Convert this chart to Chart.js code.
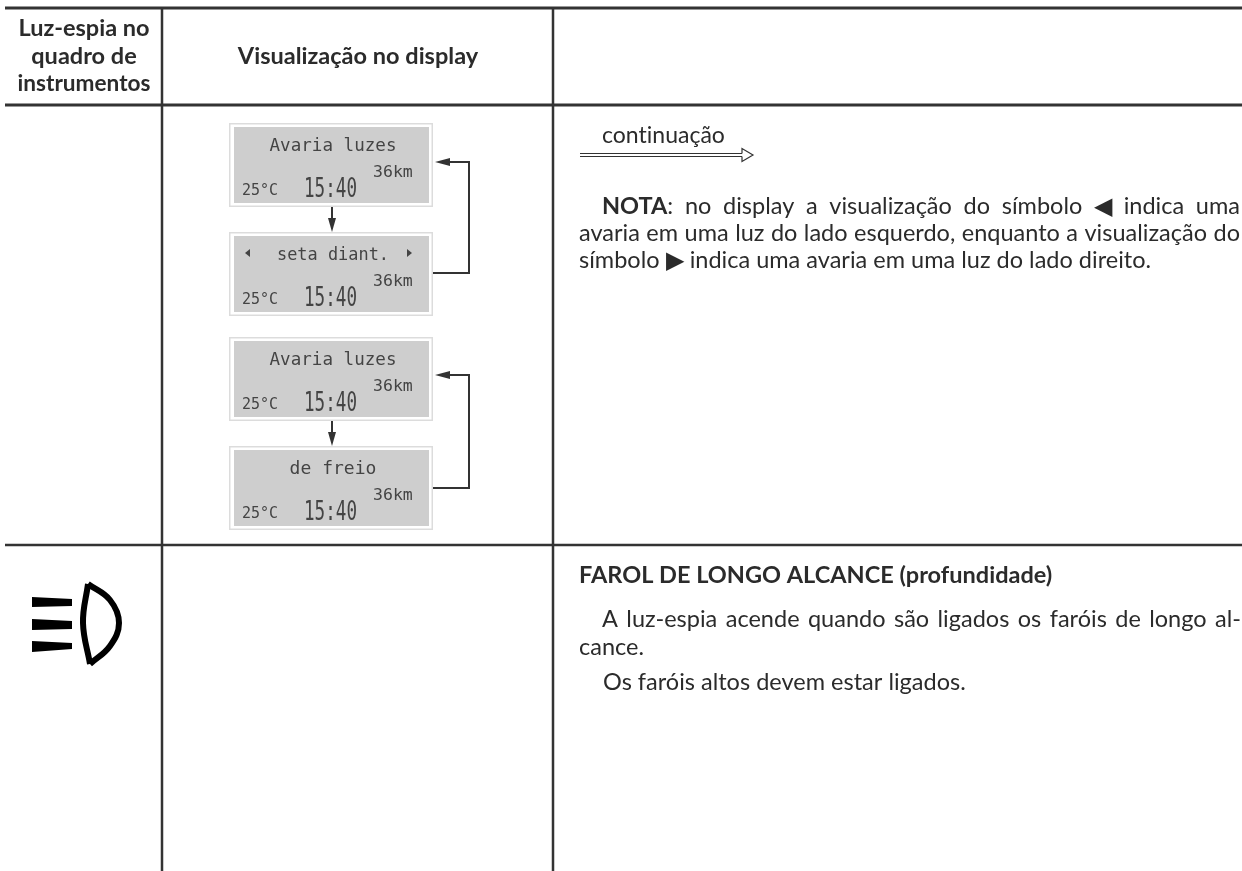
<!DOCTYPE html>
<html>
<head>
<meta charset="utf-8">
<title>Luz-espia no quadro de instrumentos</title>
<script src="https://cdn.jsdelivr.net/npm/chart.js@4"></script>
<style>
  html, body { margin: 0; background: #fff; }
  canvas { display: block; }
</style>
</head>
<body>
<canvas id="page" width="1242" height="871"></canvas>
<script>
// table grid, in page units
const tableLeft = 5;
const tableRight = 1242;
const tableBottom = 871;
const columnLines = [162, 553];
const rowLines = [8, 105, 545];

// the four display panels: top edge of each one
const panelTops = [123, 232, 337, 446];
const panelTitles = ["Avaria luzes", "seta diant.", "Avaria luzes", "de freio"];
const panelDistance = "36km";
const panelTemp = "25°C";
const panelClock = "15:40";

// header and body text
const headerFirst = ["Luz-espia no", "quadro de", "instrumentos"];
const headerSecond = "Visualização no display";
const continueLabel = "continuação";
const noteLines = [
  [["NOTA", "bold"], [": no display a visualização do símbolo ◀ indica uma", "normal"]],
  [["avaria em uma luz do lado esquerdo, enquanto a visualização do", "normal"]],
  [["símbolo ▶ indica uma avaria em uma luz do lado direito.", "normal"]],
];
const beamTitle = "FAROL DE LONGO ALCANCE (profundidade)";
const beamLines = [
  "A luz-espia acende quando são ligados os faróis de longo al-",
  "cance.",
  "Os faróis altos devem estar ligados.",
];

// helpers for the datasets
function line(points, color, width) {
  return { data: points, borderColor: color, borderWidth: width, showLine: true, pointRadius: 0, fill: false };
}
function shape(points, color) {
  return { data: points, borderColor: color, borderWidth: 0, backgroundColor: color, showLine: true, pointRadius: 0, fill: "shape" };
}
function rect(x0, y0, x1, y1, color) {
  return shape([{ x: x0, y: y0 }, { x: x1, y: y0 }, { x: x1, y: y1 }, { x: x0, y: y1 }, { x: x0, y: y0 }], color);
}

const inkColor = "#333333";
const datasets = [];

// panels
panelTops.forEach((top) => {
  datasets.push(rect(229, top, 433, top + 84, "#dcdcdc"));
  datasets.push(rect(230.5, top + 1.5, 431.5, top + 82.5, "#ffffff"));
  datasets.push(rect(234, top + 4, 429, top + 80, "#cecece"));
});

// loop arrows next to the panels
[[162, 273], [375, 488]].forEach(([upper, lower]) => {
  datasets.push(line([{ x: 433, y: lower }, { x: 469, y: lower }, { x: 469, y: upper }, { x: 445, y: upper }], inkColor, 2));
  datasets.push(shape([{ x: 435, y: upper }, { x: 450, y: upper - 4 }, { x: 450, y: upper + 4 }, { x: 435, y: upper }], inkColor));
});
[[207, 232], [421, 446]].forEach(([from, to]) => {
  datasets.push(line([{ x: 332, y: from }, { x: 332, y: to - 8 }], inkColor, 2));
  datasets.push(shape([{ x: 332, y: to }, { x: 328, y: to - 14 }, { x: 336, y: to - 14 }, { x: 332, y: to }], inkColor));
});

// small markers in the second panel
datasets.push(shape([{ x: 245, y: 253 }, { x: 250, y: 249 }, { x: 250, y: 257 }, { x: 245, y: 253 }], "#444444"));
datasets.push(shape([{ x: 412, y: 253 }, { x: 407, y: 249 }, { x: 407, y: 257 }, { x: 412, y: 253 }], "#444444"));

// continuation arrow
datasets.push(line([{ x: 580, y: 153.5 }, { x: 742, y: 153.5 }], inkColor, 1.2));
datasets.push(line([{ x: 580, y: 156.5 }, { x: 742, y: 156.5 }], inkColor, 1.2));
datasets.push(line([{ x: 742, y: 153.5 }, { x: 742, y: 148.5 }, { x: 753, y: 155 }, { x: 742, y: 161.5 }, { x: 742, y: 156.5 }], inkColor, 1.2));

// high beam symbol
datasets.push(shape([{ x: 32, y: 597 }, { x: 72, y: 599 }, { x: 72, y: 606 }, { x: 32, y: 607 }, { x: 32, y: 597 }], "#000000"));
datasets.push(shape([{ x: 32, y: 619 }, { x: 72, y: 621 }, { x: 72, y: 629 }, { x: 32, y: 630 }, { x: 32, y: 619 }], "#000000"));
datasets.push(shape([{ x: 32, y: 641 }, { x: 72, y: 643 }, { x: 72, y: 649 }, { x: 32, y: 652 }, { x: 32, y: 641 }], "#000000"));
const lensFront = line([{ x: 88, y: 584 }, { x: 110, y: 600 }, { x: 119, y: 623 }, { x: 110, y: 646 }, { x: 90, y: 664 }], "#000000", 6);
lensFront.tension = 0.4;
const lensBack = line([{ x: 88, y: 584 }, { x: 83, y: 623 }, { x: 90, y: 664 }], "#000000", 6);
lensBack.tension = 0.4;
datasets.push(lensFront, lensBack);

// table rules
rowLines.forEach((y) => datasets.push(line([{ x: tableLeft, y }, { x: tableRight, y }], inkColor, y === 545 ? 2.5 : 3)));
columnLines.forEach((x) => datasets.push(line([{ x, y: rowLines[0] }, { x, y: tableBottom }], inkColor, 2.5)));

// Chart.js paints the first dataset last, so flip to keep the order above
datasets.reverse();

// draws one line of text, spreading the spaces out to reach "right" if given
function drawRuns(ctx, scales, runs, x, y, size, right) {
  const px = scales.x.getPixelForValue(x);
  const py = scales.y.getPixelForValue(y);
  const fontFor = (weight) => `${weight} ${size}px Lato`;
  ctx.wordSpacing = "0px";
  let natural = 0;
  let spaces = 0;
  runs.forEach(([text, weight]) => {
    ctx.font = fontFor(weight);
    natural += ctx.measureText(text).width;
    spaces += text.split(" ").length - 1;
  });
  if (right && spaces) {
    ctx.wordSpacing = (scales.x.getPixelForValue(right) - px - natural) / spaces + "px";
  }
  let cursor = px;
  runs.forEach(([text, weight]) => {
    ctx.font = fontFor(weight);
    ctx.fillText(text, cursor, py);
    cursor += ctx.measureText(text).width;
  });
  ctx.wordSpacing = "0px";
}

const pageText = {
  id: "pageText",
  afterDraw(chart) {
    const { ctx, scales } = chart;
    const at = (v, axis) => scales[axis].getPixelForValue(v);
    ctx.save();
    ctx.textBaseline = "alphabetic";
    ctx.fillStyle = "#2b2b2b";
    ctx.letterSpacing = "0.01px"; // no "ti" ligature

    // header
    ctx.textAlign = "center";
    ctx.font = "bold 23.5px Lato";
    headerFirst.forEach((t, i) => ctx.fillText(t, at(84, "x"), at(36 + i * 27.5, "y"), 133));
    ctx.fillText(headerSecond, at(358, "x"), at(64, "y"));

    // panels
    ctx.fillStyle = "#444444";
    panelTops.forEach((top, i) => {
      ctx.textAlign = "center";
      ctx.font = "18px 'DejaVu Sans Mono'";
      ctx.fillText(panelTitles[i], at(333, "x"), at(top + 28, "y"), i === 1 ? 112 : 127);
      ctx.textAlign = "left";
      ctx.font = "16.5px 'DejaVu Sans Mono'";
      ctx.fillText(panelDistance, at(373, "x"), at(top + 54, "y"), 40);
      ctx.font = "15px 'DejaVu Sans Mono'";
      ctx.fillText(panelTemp, at(242, "x"), at(top + 72, "y"), 37);
      ctx.font = "26px 'DejaVu Sans Mono'";
      ctx.fillText(panelClock, at(304, "x"), at(top + 74, "y"), 53);
    });

    // right column
    ctx.fillStyle = "#2b2b2b";
    ctx.textAlign = "left";
    ctx.font = "23px Lato";
    ctx.fillText(continueLabel, at(602, "x"), at(143, "y"));
    drawRuns(ctx, scales, noteLines[0], 602, 214, 23.5, 1240);
    drawRuns(ctx, scales, noteLines[1], 579, 241, 23.5, 1240);
    drawRuns(ctx, scales, noteLines[2], 579, 268, 23.5);
    drawRuns(ctx, scales, [[beamTitle, "bold"]], 579, 583, 23.5);
    drawRuns(ctx, scales, [[beamLines[0], "normal"]], 602, 627, 23.5, 1241);
    drawRuns(ctx, scales, [[beamLines[1], "normal"]], 579, 655, 23.5);
    drawRuns(ctx, scales, [[beamLines[2], "normal"]], 603, 690, 23.5);
    ctx.restore();
  },
};

new Chart(document.getElementById("page"), {
  type: "scatter",
  data: { datasets },
  options: {
    responsive: false,
    animation: false,
    events: [],
    layout: { padding: 0 },
    plugins: { legend: { display: false }, tooltip: { enabled: false } },
    scales: {
      x: { type: "linear", min: 0, max: 1242, display: false },
      y: { type: "linear", min: 0, max: 871, reverse: true, display: false },
    },
  },
  plugins: [pageText],
});
</script>
</body>
</html>
